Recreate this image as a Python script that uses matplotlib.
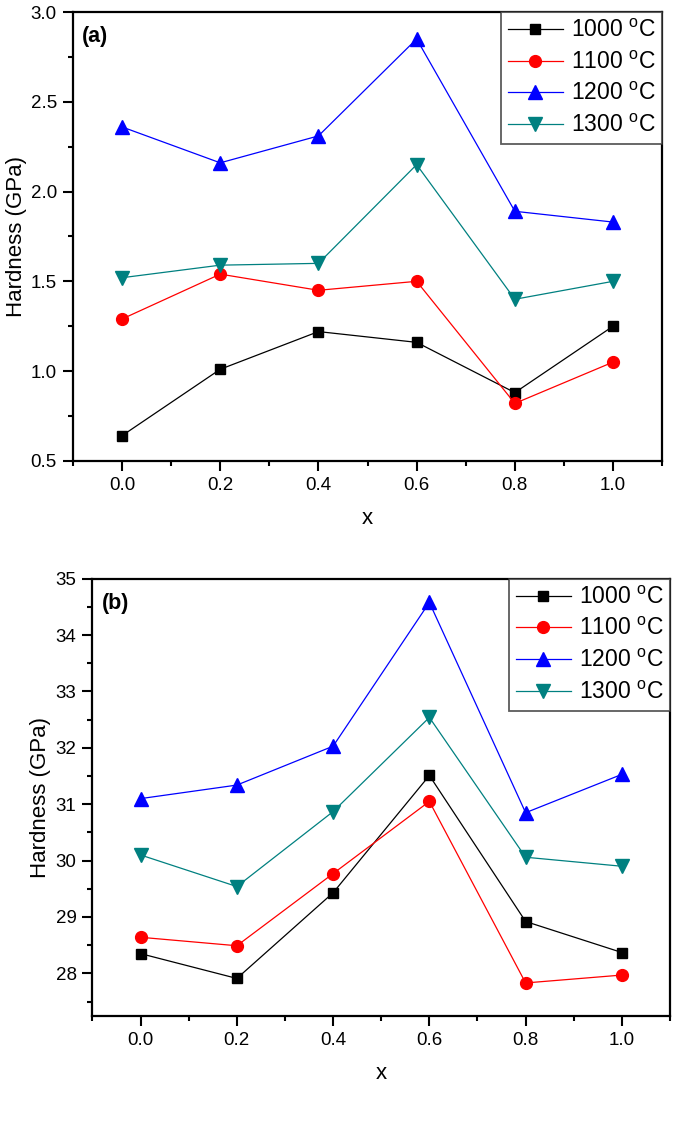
import numpy as np
import matplotlib.pyplot as plt
from matplotlib.ticker import MultipleLocator

plt.rcParams['font.family'] = ['Liberation Sans', 'DejaVu Sans']
plt.rcParams['mathtext.fontset'] = 'custom'
plt.rcParams['mathtext.rm'] = 'Liberation Sans'

x = [0.0, 0.2, 0.4, 0.6, 0.8, 1.0]
labels = ['1000 $^{\\rm o}$C', '1100 $^{\\rm o}$C', '1200 $^{\\rm o}$C', '1300 $^{\\rm o}$C']

# panel (a)
a_1000 = [0.64, 1.01, 1.22, 1.16, 0.88, 1.25]
a_1100 = [1.29, 1.54, 1.45, 1.50, 0.82, 1.05]
a_1200 = [2.36, 2.16, 2.31, 2.85, 1.89, 1.83]
a_1300 = [1.52, 1.59, 1.60, 2.15, 1.40, 1.50]

# panel (b)
b_1000 = [28.35, 27.91, 29.43, 31.51, 28.92, 28.37]
b_1100 = [28.64, 28.49, 29.77, 31.05, 27.83, 27.97]
b_1200 = [31.10, 31.34, 32.03, 34.58, 30.85, 31.53]
b_1300 = [30.10, 29.54, 30.87, 32.54, 30.06, 29.90]

colors = ['black', '#ff0000', '#0000ff', '#008080']
markers = ['s', 'o', '^', 'v']
msizes = [7.5, 8.5, 10, 10]

fig = plt.figure(figsize=(6.75, 11.24), dpi=100)
ax1 = fig.add_axes([0.108, 0.590, 0.873, 0.3993])
ax2 = fig.add_axes([0.137, 0.0964, 0.8556, 0.3887])


def draw(ax, series, ylim, ymaj, ymin, tag):
    for s, c, m, ms, lab in zip(series, colors, markers, msizes, labels):
        ax.plot(x, s, color=c, marker=m, markersize=ms, lw=0.9, label=lab,
                markeredgecolor=c, markerfacecolor=c)
    ax.set_xlim(-0.1, 1.1)
    ax.set_ylim(*ylim)
    ax.xaxis.set_major_locator(MultipleLocator(0.2))
    ax.xaxis.set_minor_locator(MultipleLocator(0.1))
    ax.yaxis.set_major_locator(MultipleLocator(ymaj))
    ax.yaxis.set_minor_locator(MultipleLocator(ymin))
    ax.xaxis.set_major_formatter(plt.FormatStrFormatter('%.1f'))
    ax.tick_params(which='both', direction='out', width=1.5, labelsize=13.5,
                   top=False, right=False, pad=4.5)
    ax.tick_params(which='major', length=7)
    ax.tick_params(which='minor', length=3.8)
    for sp in ax.spines.values():
        sp.set_linewidth(1.6)
    ax.set_xlabel('x', fontsize=16, labelpad=10)
    ax.set_ylabel('Hardness (GPa)', fontsize=16, labelpad=3)
    ax.text(0.016, 0.968, tag, transform=ax.transAxes, fontsize=15.5,
            fontweight='bold', va='top', ha='left')
    leg = ax.legend(loc='upper right', fontsize=16.5, frameon=True, fancybox=False,
                    borderaxespad=0, handlelength=2.4, handletextpad=0.35,
                    labelspacing=0.38, borderpad=0.3)
    leg.get_frame().set_edgecolor('#333333')
    leg.get_frame().set_linewidth(1.3)


draw(ax1, [a_1000, a_1100, a_1200, a_1300], (0.5, 3.0), 0.5, 0.25, '(a)')
draw(ax2, [b_1000, b_1100, b_1200, b_1300], (27.25, 35), 1, 0.5, '(b)')
ax1.yaxis.set_major_formatter(plt.FormatStrFormatter('%.1f'))
ax2.yaxis.set_major_formatter(plt.FormatStrFormatter('%d'))

fig.savefig('out.png', dpi=100)
